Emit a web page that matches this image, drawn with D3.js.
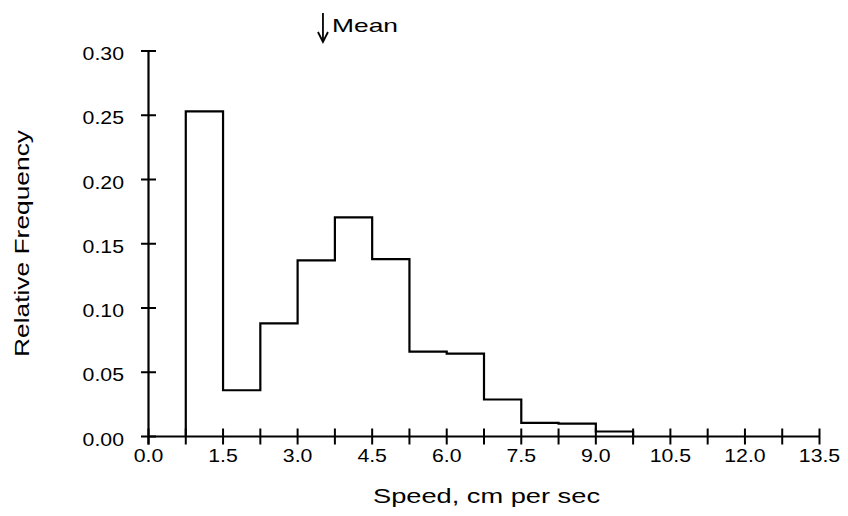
<!DOCTYPE html>
<html><head><meta charset="utf-8">
<script src="https://cdn.jsdelivr.net/npm/d3@7"></script>
<style>body{margin:0;background:#fff}svg{display:block}text{font-family:"Liberation Sans",Arial,sans-serif;fill:#000}</style>
</head><body>
<svg id="c" width="848" height="516"></svg>
<script>
const binEdges = [0.75,1.5,2.25,3.0,3.75,4.5,5.25,6.0,6.75,7.5,8.25,9.0,9.75];
const binValues = [0.253,0.036,0.088,0.137,0.1705,0.138,0.066,0.0645,0.0288,0.0106,0.0100,0.0039];
const xTickValues = [0,1.5,3.0,4.5,6.0,7.5,9.0,10.5,12.0,13.5];
const xMinorTicks = [0,0.75,1.5,2.25,3.0,3.75,4.5,5.25,6.0,6.75,7.5,8.25,9.0,9.75,10.5,11.25,12.0,12.75,13.5];
const yTickValues = [0,0.05,0.10,0.15,0.20,0.25,0.30];
const meanValue = 3.5;

const svg = d3.select("#c");
const x = d3.scaleLinear().domain([0,13.5]).range([148.5,819.5]);
const y = d3.scaleLinear().domain([0,0.30]).range([436.5,51]);

// axes lines
svg.append("line").attr("x1",x(0)).attr("x2",x(13.5)).attr("y1",y(0)).attr("y2",y(0)).attr("stroke","#000").attr("stroke-width",2.2);
svg.append("line").attr("x1",x(0)).attr("x2",x(0)).attr("y1",y(0)+8).attr("y2",y(0.30)).attr("stroke","#000").attr("stroke-width",2.2);

// x ticks (crossing)
svg.selectAll(".xt").data(xMinorTicks).join("line")
  .attr("x1",d=>x(d)).attr("x2",d=>x(d)).attr("y1",y(0)-8).attr("y2",y(0)+8)
  .attr("stroke","#000").attr("stroke-width",2);
// y ticks
svg.selectAll(".yt").data(yTickValues).join("line")
  .attr("x1",x(0)-7.5).attr("x2",x(0)+7.5).attr("y1",d=>y(d)).attr("y2",d=>y(d))
  .attr("stroke","#000").attr("stroke-width",2);

svg.selectAll(".xl").data(xTickValues).join("text")
  .attr("transform",d=>`translate(${x(d)},462) scale(1.12,1)`).attr("text-anchor","middle").attr("font-size",19)
  .text(d=>d.toFixed(1));
svg.selectAll(".yl").data(yTickValues).join("text")
  .attr("transform",d=>`translate(124,${y(d)+9}) scale(1.12,1)`).attr("text-anchor","end").attr("font-size",19)
  .text(d=>d.toFixed(2));

svg.append("text").attr("x",373).attr("y",503).attr("font-size",21)
  .attr("textLength",227).attr("lengthAdjust","spacingAndGlyphs").text("Speed, cm per sec");
svg.append("text").attr("transform","translate(29,357) rotate(-90)").attr("font-size",21)
  .attr("textLength",227).attr("lengthAdjust","spacingAndGlyphs").text("Relative Frequency");

// histogram step path
const pts = [[binEdges[0],0]];
binValues.forEach((v,i)=>{pts.push([binEdges[i],v]);pts.push([binEdges[i+1],v]);});
pts.push([binEdges[binEdges.length-1],0]);
svg.append("path").attr("d",d3.line().x(d=>x(d[0])).y(d=>y(d[1]))(pts))
  .attr("fill","none").attr("stroke","#000").attr("stroke-width",2.2).attr("stroke-linejoin","miter");

// mean arrow
const mx = x(meanValue)+0.5;
svg.append("line").attr("x1",mx).attr("x2",mx).attr("y1",13).attr("y2",41).attr("stroke","#000").attr("stroke-width",1.8);
svg.append("path").attr("d",`M${mx-5},32 L${mx},42 L${mx+5},32`).attr("fill","none").attr("stroke","#000").attr("stroke-width",1.8);
svg.append("text").attr("x",332).attr("y",32).attr("font-size",19)
  .attr("textLength",66).attr("lengthAdjust","spacingAndGlyphs").text("Mean");
</script>
</body></html>
